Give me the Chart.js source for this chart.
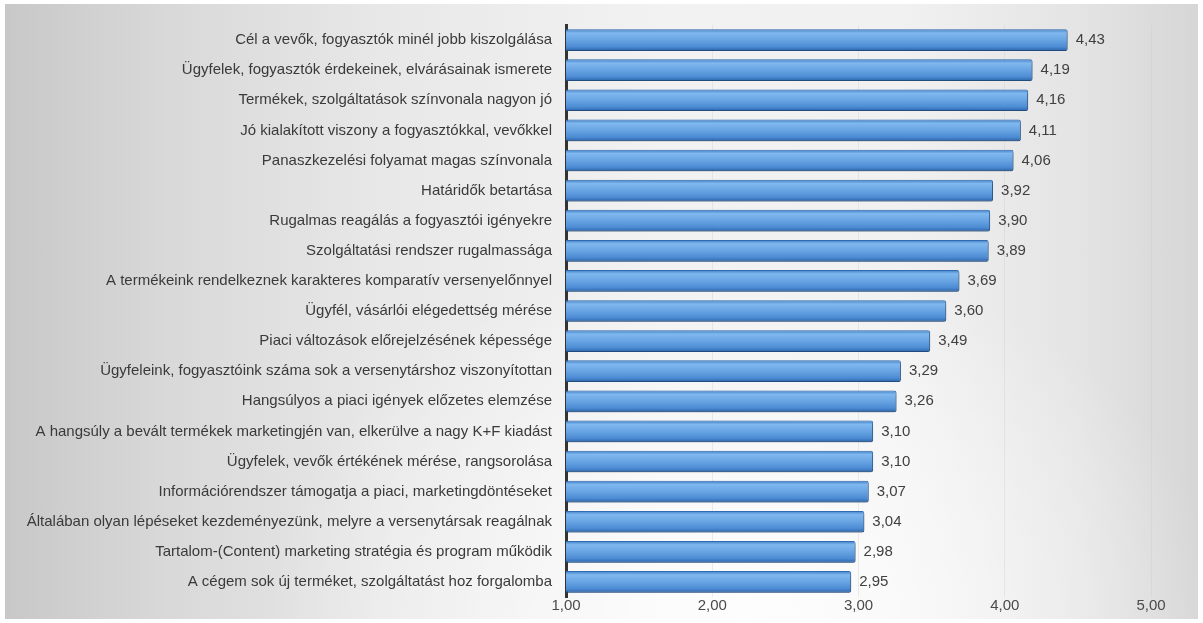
<!DOCTYPE html>
<html lang="hu">
<head>
<meta charset="utf-8">
<title>Piaci orientáció</title>
<script src="https://cdn.jsdelivr.net/npm/chart.js@4"></script>
<style>
  html, body { margin: 0; padding: 0; background: #fff; }
  #wrap {
    position: absolute; left: 5px; top: 4px; width: 1193px; height: 615px;
    background:
      radial-gradient(ellipse 40% 60% at 62% 100%, rgba(255,255,255,0.9) 0%, rgba(255,255,255,0) 100%),
      linear-gradient(to right, #c8c8c8 0%, #d9d9d9 14%, #e8e8e8 32%, #f2f2f2 55%, #f1f1f1 75%, #e4e4e4 90%, #d6d6d6 100%);
  }
  #holder { position: absolute; left: 0; top: 0; width: 1203px; height: 623px; }
</style>
</head>
<body>
<div id="wrap"></div>
<div id="holder"><canvas id="statsChart"></canvas></div>
<script>
const categories = [
    "Cél a vevők, fogyasztók minél jobb kiszolgálása",
    "Ügyfelek, fogyasztók érdekeinek, elvárásainak ismerete",
    "Termékek, szolgáltatások színvonala nagyon jó",
    "Jó kialakított viszony a fogyasztókkal, vevőkkel",
    "Panaszkezelési folyamat magas színvonala",
    "Határidők betartása",
    "Rugalmas reagálás a fogyasztói igényekre",
    "Szolgáltatási rendszer rugalmassága",
    "A termékeink rendelkeznek karakteres komparatív versenyelőnnyel",
    "Ügyfél, vásárlói elégedettség mérése",
    "Piaci változások előrejelzésének képessége",
    "Ügyfeleink, fogyasztóink száma sok a versenytárshoz viszonyítottan",
    "Hangsúlyos a piaci igények előzetes elemzése",
    "A hangsúly a bevált termékek marketingjén van, elkerülve a nagy K+F kiadást",
    "Ügyfelek, vevők értékének mérése, rangsorolása",
    "Információrendszer támogatja a piaci, marketingdöntéseket",
    "Általában olyan lépéseket kezdeményezünk, melyre a versenytársak reagálnak",
    "Tartalom-(Content) marketing stratégia és program működik",
    "A cégem sok új terméket, szolgáltatást hoz forgalomba"
];
const scores = [4.43, 4.19, 4.16, 4.11, 4.06, 3.92, 3.90, 3.89, 3.69, 3.60, 3.49, 3.29, 3.26, 3.10, 3.10, 3.07, 3.04, 2.98, 2.95];
const axisTicks = [1, 2, 3, 4, 5];

const FONT = "'Liberation Sans Narrow', 'Arial Narrow', 'Liberation Sans', sans-serif";
const hu = v => v.toFixed(2).replace(".", ",");

Chart.defaults.font.family = FONT;
Chart.defaults.color = "#3f3f3f";

// kis árnyék a sávok alá
const barShadow = {
    id: "barShadow",
    beforeDatasetsDraw(chart) {
        const c = chart.ctx;
        c.save();
        c.shadowColor = "rgba(0,0,0,0.35)";
        c.shadowBlur = 3;
        c.shadowOffsetX = 1;
        c.shadowOffsetY = 2;
    },
    afterDatasetsDraw(chart) {
        chart.ctx.restore();
    }
};

// értékek a sávok végén
const valueLabels = {
    id: "valueLabels",
    afterDatasetsDraw(chart) {
        const c = chart.ctx;
        const meta = chart.getDatasetMeta(0);
        c.save();
        c.font = "15px " + FONT;
        c.fillStyle = "#404040";
        c.textAlign = "left";
        c.textBaseline = "middle";
        meta.data.forEach((bar, i) => {
            c.fillText(hu(scores[i]), bar.x + 8, bar.y);
        });
        c.restore();
    }
};

function barFill(ctx) {
    const chart = ctx.chart;
    const ys = chart.scales.y;
    if (!ys || ctx.type !== "data") return "#5b9bd5";
    const cy = ys.getPixelForValue(ctx.dataIndex);
    if (!isFinite(cy)) return "#5b9bd5";
    const g = chart.ctx.createLinearGradient(0, cy - 11, 0, cy + 11);
    g.addColorStop(0, "#3b7bc4");
    g.addColorStop(0.18, "#80b8ef");
    g.addColorStop(0.5, "#68a4e3");
    g.addColorStop(0.8, "#4d8cd4");
    g.addColorStop(1, "#2a63a8");
    return g;
}

new Chart(document.getElementById("statsChart"), {
    type: "bar",
    data: {
        labels: categories,
        datasets: [{
            data: scores,
            backgroundColor: barFill,
            borderColor: "#2f6cb3",
            borderWidth: 1,
            borderSkipped: false,
            borderRadius: 2,
            barPercentage: 0.72,
            categoryPercentage: 1
        }]
    },
    options: {
        indexAxis: "y",
        responsive: true,
        maintainAspectRatio: false,
        animation: false,
        layout: { padding: { left: 5, right: 52, top: 25, bottom: 7 } },
        plugins: {
            legend: { display: false },
            tooltip: { enabled: false }
        },
        scales: {
            x: {
                min: 1,
                max: 5,
                afterBuildTicks: scale => {
                    scale.ticks = axisTicks.map(v => ({ value: v }));
                },
                afterFit: scale => { scale.height = 19; },
                grid: { color: "rgba(200,200,200,0.3)", drawTicks: false },
                border: { display: false },
                ticks: {
                    padding: 0,
                    color: "#4a4a4a",
                    font: { size: 15 },
                    callback: v => hu(v)
                }
            },
            y: {
                afterFit: scale => { scale.width = 561; },
                grid: { display: false },
                border: { display: true, color: "#333333", width: 3 },
                ticks: {
                    padding: 6,
                    color: "#3a3a3a",
                    font: { size: 15 }
                }
            }
        }
    },
    plugins: [barShadow, valueLabels]
});
</script>
</body>
</html>
